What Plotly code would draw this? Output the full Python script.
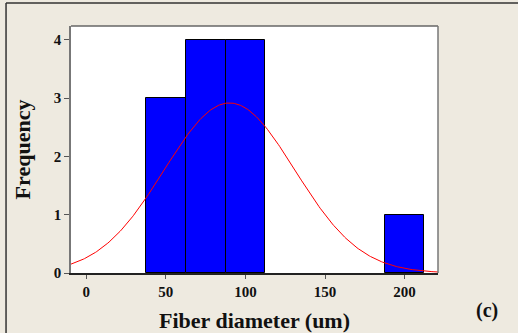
import numpy as np
import plotly.graph_objects as go

# Histogram data (bin centers, counts)
bin_centers = [50, 75, 100, 200]
counts = [3, 4, 4, 1]
bin_width = 25
n_total = 12
# fitted normal parameters
fit_mean = 90.0
fit_sd = 41.0

x_ticks = [0, 50, 100, 150, 200]
y_ticks = [0, 1, 2, 3, 4]

xs = np.linspace(-9.6, 221, 300)
ys = n_total * bin_width / (fit_sd * np.sqrt(2 * np.pi)) * np.exp(-0.5 * ((xs - fit_mean) / fit_sd) ** 2)

FONT = "Liberation Serif, Times New Roman, serif"

fig = go.Figure()
fig.add_trace(go.Bar(x=bin_centers, y=counts, width=[bin_width] * len(bin_centers),
                     marker=dict(color="#0000FF", line=dict(color="#000000", width=1)),
                     showlegend=False, hoverinfo="skip"))
fig.add_trace(go.Scatter(x=xs, y=ys, mode="lines", line=dict(color="#FF0000", width=1),
                         showlegend=False, hoverinfo="skip"))

fig.update_layout(
    width=518, height=333,
    margin=dict(l=71, r=80, t=26, b=60),
    paper_bgcolor="#EEEAE0",
    plot_bgcolor="#FFFFFF",
    bargap=0,
    font=dict(family=FONT, color="#111111"),
    xaxis=dict(range=[-9.6, 221], tickvals=x_ticks, ticktext=[f"<b>{v}</b>" for v in x_ticks],
               ticks="outside", ticklen=4, tickcolor="#555555", tickfont=dict(size=15, family=FONT, color="#111111"),
               showgrid=False, zeroline=False, showline=True, linecolor="#222222", linewidth=1.5,
               mirror=False, automargin=False,
               title=dict(text="<b>Fiber diameter (um)</b>", font=dict(size=22, family=FONT), standoff=15)),
    yaxis=dict(range=[0, 4.24], tickvals=y_ticks, ticktext=[f"<b>{v}</b>" for v in y_ticks],
               ticks="outside", ticklen=5, tickcolor="#555555", tickfont=dict(size=15, family=FONT, color="#111111"),
               showgrid=False, zeroline=False, showline=True, linecolor="#777777", linewidth=1.5,
               automargin=False,
               title=dict(text="<b>Frequency</b>", font=dict(size=22, family=FONT), standoff=17)),
    shapes=[
        # plot frame top and right
        dict(type="line", xref="paper", yref="paper", x0=0, x1=1, y0=1, y1=1,
             line=dict(color="#666666", width=1.5)),
        dict(type="line", xref="paper", yref="paper", x0=1, x1=1, y0=0, y1=1,
             line=dict(color="#777777", width=1.5)),
        # outer frame top and left
        dict(type="line", xref="paper", yref="paper", x0=-0.177, x1=1.25, y0=1.093, y1=1.093,
             line=dict(color="#333333", width=1.5)),
        dict(type="line", xref="paper", yref="paper", x0=-0.177, x1=-0.177, y0=-0.25, y1=1.093,
             line=dict(color="#333333", width=1.5)),
    ],
    annotations=[
        dict(text="<b>(c)</b>", xref="paper", yref="paper", x=1.133, y=-0.15,
             xanchor="center", yanchor="middle",
             showarrow=False, font=dict(size=20, family=FONT, color="#111111")),
    ],
)

fig.write_html("out.html", config={"displayModeBar": False},
               post_script="document.body.style.margin='0';document.body.style.overflow='hidden';")
